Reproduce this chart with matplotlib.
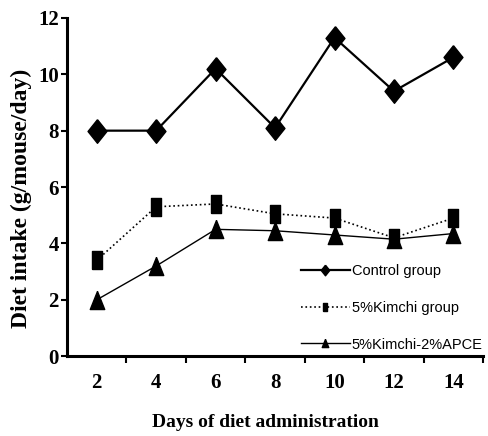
import numpy as np
import matplotlib.pyplot as plt
from matplotlib.ticker import FixedLocator

# Diet intake (g/mouse/day)
days = [2, 4, 6, 8, 10, 12, 14]
control = [8.0, 8.0, 10.2, 8.1, 11.3, 9.4, 10.6]
kimchi = [3.4, 5.3, 5.4, 5.05, 4.9, 4.2, 4.9]
kimchi_apce = [2.0, 3.2, 4.5, 4.45, 4.3, 4.15, 4.35]
labels = ["Control group", "5%Kimchi group", "5%Kimchi-2%APCE"]
yticks = [0, 2, 4, 6, 8, 10, 12]

# tall, narrow marker shapes like the scanned figure
diamond = [(0, 1), (0.8, 0), (0, -1), (-0.8, 0), (0, 1)]
rect = [(-0.55, -1), (0.55, -1), (0.55, 1), (-0.55, 1), (-0.55, -1)]
tri = [(0, 1), (-0.8, -1), (0.8, -1), (0, 1)]

serif = ["Liberation Serif", "DejaVu Serif"]

fig = plt.figure(figsize=(4.89, 4.36), dpi=100)
ax = fig.add_axes([0.137, 0.183, 0.851, 0.776])

ax.plot(days, control, "-k", lw=1.6, marker=diamond, ms=17, label=labels[0])
ax.plot(days, kimchi, ":k", lw=1.2, marker=rect, ms=13, label=labels[1])
ax.plot(days, kimchi_apce, "-k", lw=1.0, marker=tri, ms=13, label=labels[2])

ax.set_xlim(1, 15)
ax.set_ylim(0, 12)
ax.spines["top"].set_visible(False)
ax.spines["right"].set_visible(False)
ax.spines["left"].set_linewidth(2.2)
ax.spines["bottom"].set_linewidth(2.2)

ax.set_xticks(days)
ax.xaxis.set_minor_locator(FixedLocator([3, 5, 7, 9, 11, 13, 15]))
ax.tick_params(axis="x", which="major", length=0, pad=12)
ax.tick_params(axis="x", which="minor", length=5, width=1.5, direction="out")
ax.set_yticks(yticks)
ax.tick_params(axis="y", length=4, width=1.5, direction="out", pad=2)
for t in ax.get_xticklabels() + ax.get_yticklabels():
    t.set_family(serif)
    t.set_fontweight("bold")
    t.set_fontsize(15)

ax.set_xlabel("Days of diet administration", family=serif, fontweight="bold",
              fontsize=14)
ax.xaxis.set_label_coords(0.476, -0.17)
ax.set_ylabel("Diet intake (g/mouse/day)", family=serif, fontweight="bold",
              fontsize=17)
ax.yaxis.set_label_coords(-0.085, 0.467)

leg = ax.legend(loc="lower right", bbox_to_anchor=(1.03, -0.025), frameon=False,
                markerscale=0.45, handlelength=3.4, handletextpad=0.1,
                labelspacing=1.55,
                prop={"family": ["Liberation Sans", "DejaVu Sans"], "size": 10.5})

fig.savefig("out.png", dpi=100)
